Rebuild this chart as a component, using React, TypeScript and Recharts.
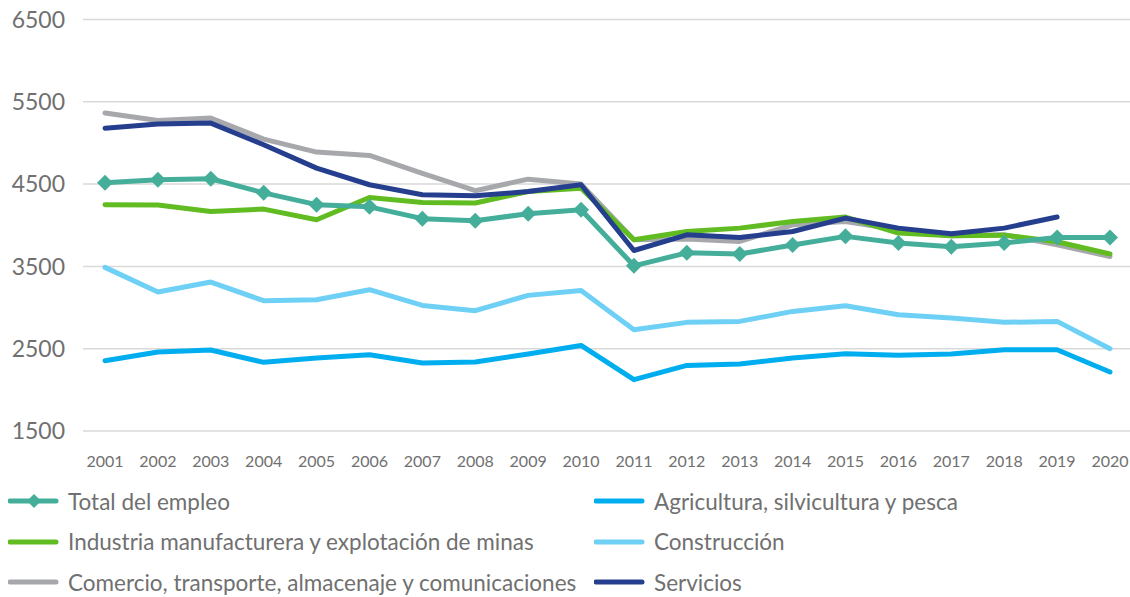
import React from 'react'
import { LineChart, Line, XAxis, YAxis, CartesianGrid } from 'recharts'

const years = [
  '2001', '2002', '2003', '2004', '2005', '2006', '2007', '2008', '2009', '2010',
  '2011', '2012', '2013', '2014', '2015', '2016', '2017', '2018', '2019', '2020',
]

const totalEmpleo = [4516, 4552, 4565, 4394, 4250, 4224, 4080, 4055, 4140, 4188, 3507, 3665, 3650, 3760, 3865, 3785, 3738, 3785, 3852, 3852]
const agricultura = [2354, 2460, 2484, 2334, 2387, 2427, 2326, 2338, 2436, 2540, 2124, 2297, 2314, 2387, 2439, 2419, 2436, 2488, 2488, 2217]
const industria = [4250, 4245, 4167, 4196, 4066, 4337, 4277, 4270, 4410, 4450, 3823, 3924, 3965, 4045, 4100, 3905, 3872, 3880, 3800, 3650]
const construccion = [3488, 3189, 3310, 3083, 3095, 3217, 3026, 2962, 3148, 3208, 2731, 2820, 2832, 2953, 3022, 2913, 2873, 2820, 2832, 2500]
const comercio = [5363, 5273, 5302, 5047, 4889, 4848, 4630, 4420, 4560, 4500, 3823, 3832, 3803, 4005, 4045, 3945, 3872, 3884, 3763, 3620]
const servicios: (number | null)[] = [5180, 5229, 5241, 4978, 4694, 4492, 4370, 4358, 4410, 4492, 3693, 3884, 3851, 3924, 4087, 3965, 3896, 3965, 4100, null]

const yTicks = [1500, 2500, 3500, 4500, 5500, 6500]

const series = [
  { key: 'total', name: 'Total del empleo', color: '#45AE9A', values: totalEmpleo, marker: true },
  { key: 'agri', name: 'Agricultura, silvicultura y pesca', color: '#00AEEF', values: agricultura, marker: false },
  { key: 'ind', name: 'Industria manufacturera y explotación de minas', color: '#60BC20', values: industria, marker: false },
  { key: 'cons', name: 'Construcción', color: '#6FD0F6', values: construccion, marker: false },
  { key: 'com', name: 'Comercio, transporte, almacenaje y comunicaciones', color: '#A7A8AC', values: comercio, marker: false },
  { key: 'serv', name: 'Servicios', color: '#253F8E', values: servicios, marker: false },
]

// draw order as in the reference
const drawOrder = ['agri', 'cons', 'com', 'ind', 'serv', 'total']

const data = years.map((year, i) => {
  const row: Record<string, string | number | null> = { year }
  series.forEach(s => { row[s.key] = s.values[i] })
  return row
})

const FONT = 'Lato, "Open Sans", sans-serif'
const TEXT = '#707070'
const TOTAL_COLOR = series[0].color

const Diamond = (props: any) => {
  const { cx, cy, index } = props
  if (cx == null || cy == null) return <g key={`d-${index}`} />
  const r = 8
  return (
    <path
      key={`d-${index}`}
      d={`M${cx},${cy - r} L${cx + r},${cy} L${cx},${cy + r} L${cx - r},${cy} Z`}
      fill={TOTAL_COLOR}
    />
  )
}

function LegendBlock() {
  return (
    <div style={{ position: 'absolute', left: 8, top: 485, width: 1122, fontFamily: FONT, fontSize: 22.5, color: TEXT }}>
      {series.map((s, i) => {
        const col = i % 2
        const row = Math.floor(i / 2)
        return (
          <div
            key={s.key}
            style={{
              position: 'absolute',
              left: col === 0 ? 0 : 586,
              top: row * 40.5,
              display: 'flex',
              alignItems: 'center',
              height: 32,
              whiteSpace: 'nowrap',
            }}
          >
            <svg width={52} height={20} style={{ marginRight: 8 }}>
              <line x1={2} y1={10} x2={48} y2={10} stroke={s.color} strokeWidth={5} strokeLinecap="round" />
              {s.marker && <path d="M26,3 L33,10 L26,17 L19,10 Z" fill={s.color} />}
            </svg>
            <span>{s.name}</span>
          </div>
        )
      })}
    </div>
  )
}

export default function App() {
  return (
    <div style={{ position: 'absolute', left: 0, top: 0, width: 1130, height: 597, background: '#fff' }}>
      <LineChart
        width={1130}
        height={597}
        data={data}
        margin={{ top: 19.5, right: 0, left: 0, bottom: 136 }}
      >
        <CartesianGrid vertical={false} stroke="#D9D9D9" strokeWidth={1.5} />
        <XAxis
          dataKey="year"
          axisLine={false}
          tickLine={false}
          padding={{ left: 22, right: 20 }}
          interval={0}
          tickMargin={19}
          tick={{ fill: TEXT, fontSize: 16, fontFamily: FONT }}
        />
        <YAxis
          domain={[1500, 6500]}
          ticks={yTicks}
          axisLine={false}
          tickLine={false}
          width={83}
          tickSize={0}
          tickMargin={18}
          tick={{ fill: TEXT, fontSize: 23, fontFamily: FONT }}
        />
        {drawOrder.map(k => {
          const s = series.find(x => x.key === k)!
          return (
            <Line
              key={s.key}
              type="linear"
              dataKey={s.key}
              name={s.name}
              stroke={s.color}
              strokeWidth={5}
              strokeLinecap="round"
              strokeLinejoin="round"
              dot={s.marker ? Diamond : false}
              activeDot={false}
              isAnimationActive={false}
            />
          )
        })}
      </LineChart>
      <LegendBlock />
    </div>
  )
}
